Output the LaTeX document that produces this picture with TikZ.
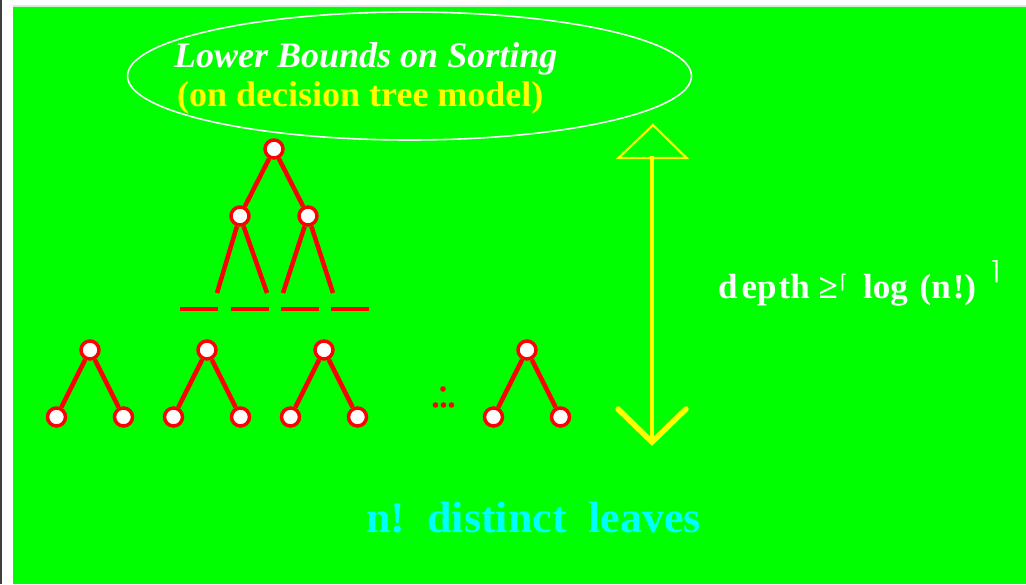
\documentclass[tikz,border=0pt]{standalone}
\usepackage{fontspec}
\setmainfont{Liberation Serif}
\newfontfamily\djv{DejaVu Sans}
\definecolor{bggreen}{RGB}{0,255,0}
\definecolor{edgegray}{RGB}{64,64,64}
\definecolor{striplight}{RGB}{214,236,214}
\definecolor{cyanc}{RGB}{0,255,255}
\definecolor{yellowc}{RGB}{255,255,0}
\begin{document}
\begin{tikzpicture}[x=1pt,y=-1pt,
  tnode/.style={circle, draw=red, fill=white, line width=3.5pt, minimum size=18pt, inner sep=0pt},
  edgeline/.style={red, line width=4.5pt},
  dashbar/.style={red, line width=4.5pt},
  dotmark/.style={red},
  arrowline/.style={yellowc, line width=3.5pt},
  txt/.style={inner sep=0pt, anchor=base west}]
% background
\useasboundingbox (0,0) rectangle (1026,584);
\fill[white] (0,0) rectangle (1026,584);
\fill[edgegray] (0,0) rectangle (2,584);
\fill[striplight] (13,5) rectangle (1026,7);
\fill[bggreen] (13,7) rectangle (1026,584);
% title ellipse
\draw[white, line width=1.6pt] (409.5,76) ellipse [x radius=282, y radius=64];
\node[txt, text=white] (title1) at (174,67) {\fontsize{36}{40}\selectfont\bfseries\itshape Lower Bounds on Sorting};
\node[txt, text=yellowc] (title2) at (177,106) {\fontsize{36}{40}\selectfont\bfseries (on decision tree model)};
% top tree
\node[tnode] (r) at (274,149) {};
\node[tnode] (a) at (240,216) {};
\node[tnode] (b) at (308,216) {};
\coordinate (a1) at (217,293);
\coordinate (a2) at (267,293);
\coordinate (b1) at (283,293);
\coordinate (b2) at (333,293);
\draw[edgeline] (r) -- (a);
\draw[edgeline] (r) -- (b);
\draw[edgeline] (a) -- (a1);
\draw[edgeline] (a) -- (a2);
\draw[edgeline] (b) -- (b1);
\draw[edgeline] (b) -- (b2);
\draw[dashbar] (180,309) -- (218,309);
\draw[dashbar] (231,309) -- (269,309);
\draw[dashbar] (281,309) -- (319,309);
\draw[dashbar] (331,309) -- (369,309);
% small trees
\foreach \i/\x in {1/90,2/207,3/324,4/527}{
  \node[tnode] (s\i) at (\x,350) {};
  \node[tnode] (s\i l) at (\x-33.5,417) {};
  \node[tnode] (s\i r) at (\x+33.5,417) {};
  \draw[edgeline] (s\i) -- (s\i l);
  \draw[edgeline] (s\i) -- (s\i r);
}
% dots
\fill[dotmark] (443,389) circle (2.8);
\fill[dotmark] (435.5,405) circle (2.8);
\fill[dotmark] (443.5,405) circle (2.8);
\fill[dotmark] (451.5,405) circle (2.8);
% depth arrow
\coordinate (atop) at (652,156);
\coordinate (abot) at (652,442);
\draw[arrowline] (atop) -- (abot);
\draw[yellowc, line width=2.2pt, line join=miter] (653,125) -- (618.5,158) -- (686.5,158) -- cycle;
\draw[yellowc, line width=5.5pt, line cap=round, line join=miter] (618,409) -- (abot) -- (686,409);
% depth label
\node[txt, text=white] (dep) at (718,298) {\fontsize{35}{40}\selectfont\bfseries d\kern4pt ep\kern2pt th ≥};
\node[inner sep=0pt, anchor=north west, text=white] (lc) at (840,274) {\fontsize{19}{22}\selectfont\djv ⌈};
\node[txt, text=white] (lg) at (863,298) {\fontsize{35}{40}\selectfont\bfseries log\ \kern3pt(n\kern2pt!)};
\node[inner sep=0pt, anchor=north east, text=white] (rc) at (1000,260) {\fontsize{25}{28}\selectfont\djv ⌉};
% leaves label
\node[txt, text=cyanc] (leaves) at (366,532) {\fontsize{44}{50}\selectfont\bfseries n!\ \ distinct\ \ leaves};
\end{tikzpicture}
\end{document}
